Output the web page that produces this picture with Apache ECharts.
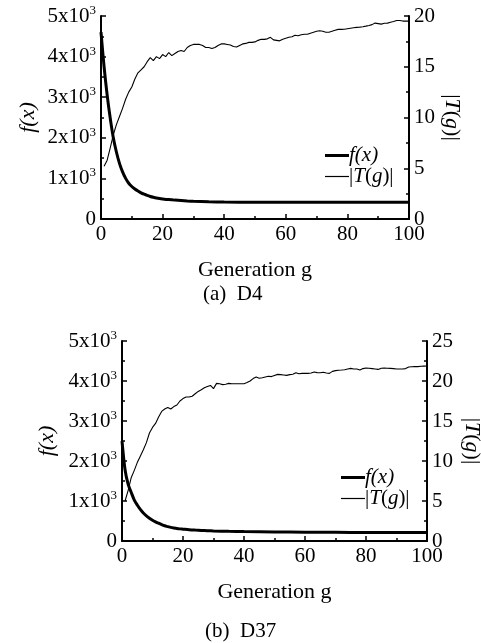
<!DOCTYPE html>
<html><head><meta charset="utf-8">
<script src="https://cdn.jsdelivr.net/npm/echarts@6/dist/echarts.min.js"></script>
<style>html,body{margin:0;padding:0;background:#fff}#c{width:481px;height:643px}</style>
</head><body><div id="c"></div>
<script>
// ---- Data: chart (a) D4 ----
const fGenA = [0,1,2,3,4,5,6,7,8,9,10,11,12,13,14,15,16,17,18,19,20,22,24,26,28,30,35,40,50,60,70,80,90,100];
const fValA = [4600,3750,3050,2480,2000,1650,1370,1160,1000,880,800,740,690,645,610,580,555,535,518,505,495,478,465,455,445,437,425,418,414,412,411,410,410,410];
const tValA = [5.2,5.8,7.0,8.3,9.3,10.1,10.9,11.8,12.5,13.0,13.8,14.4,14.7,15.0,15.5,15.9,15.6,16.0,15.8,16.2,
  16.0,16.4,16.1,16.3,16.5,16.6,16.5,16.9,17.1,17.2,17.2,17.2,17.1,16.9,16.9,16.8,16.9,17.1,17.25,17.25,
  17.2,17.15,17.0,16.95,17.1,17.25,17.3,17.4,17.4,17.45,17.6,17.7,17.7,17.75,17.9,17.65,17.6,17.55,17.7,17.8,
  17.9,17.95,18.1,18.05,18.15,18.2,18.2,18.3,18.4,18.5,18.55,18.5,18.4,18.4,18.5,18.6,18.68,18.68,18.7,18.75,
  18.8,18.85,18.88,18.9,18.94,19.0,19.07,19.15,19.3,19.25,19.2,19.28,19.3,19.38,19.45,19.55,19.55,19.5,19.5,19.5];
// ---- Data: chart (b) D37 ----
const fGenB = [0,1,2,3,4,5,6,7,8,9,10,11,12,13,14,15,16,17,18,19,20,22,24,26,28,30,35,40,50,60,70,80,90,100];
const fValB = [2500,1780,1420,1220,1030,900,790,700,630,570,520,480,445,410,380,360,340,325,312,303,296,282,272,264,257,252,242,235,226,220,216,213,211,210];
const tValB = [5.0,6.3,7.9,8.8,9.8,10.6,11.4,12.3,13.5,14.2,14.7,15.5,16.2,16.5,16.7,16.5,16.8,17.0,17.5,17.8,
  18.0,18.0,18.1,18.4,18.7,18.9,19.15,19.3,19.45,19.05,19.7,19.65,19.55,19.6,19.7,19.65,19.65,19.65,19.65,19.66,
  19.8,20.0,20.3,20.5,20.35,20.4,20.5,20.6,20.55,20.7,20.83,20.8,20.75,20.7,20.8,20.85,21.04,20.9,20.95,20.95,
  20.95,21.0,21.12,21.05,21.04,21.1,21.0,20.95,21.2,21.3,21.35,21.37,21.4,21.5,21.58,21.5,21.5,21.37,21.55,21.62,
  21.6,21.55,21.5,21.45,21.6,21.62,21.6,21.58,21.55,21.5,21.5,21.5,21.55,21.75,21.78,21.8,21.8,21.84,21.86,21.87];
const tGenStart = 1;
const leftMax = 5000, rightMaxA = 20, rightMaxB = 25;

const serif = '"Liberation Serif","DejaVu Serif",serif';
const pairs = (xs, ys) => ys.map((v,i) => [xs[i], v]);
const tPairs = ys => ys.map((v,i) => [tGenStart + i, v]);
const TICK = 21;

function xAxis(gi){
  return {type:'value', gridIndex:gi, min:0, max:100, interval:20,
    name:'Generation g', nameLocation:'middle', nameGap:40, nameMoveOverlap:false,
    nameTextStyle:{fontFamily:serif, fontSize:22, color:'#000'},
    axisLine:{lineStyle:{color:'#000', width:2}},
    axisTick:{inside:true, length:5, lineStyle:{color:'#000', width:1.5}},
    minorTick:{show:true, splitNumber:2, length:3, lineStyle:{color:'#000', width:1.5}},
    axisLabel:{fontFamily:serif, fontSize:TICK, color:'#000', margin:5},
    splitLine:{show:false}};
}
function leftAxis(gi, gap){
  return {type:'value', gridIndex:gi, min:0, max:leftMax, interval:1000, position:'left',
    name:'{i|f}{i|(x)}', nameLocation:'middle', nameGap:gap, nameMoveOverlap:false,
    nameTextStyle:{fontFamily:serif, fontSize:22, color:'#000', rich:{i:{fontFamily:serif, fontSize:22, fontStyle:'italic', color:'#000'}}},
    axisLine:{show:true, lineStyle:{color:'#000', width:2}},
    axisTick:{inside:true, length:5, lineStyle:{color:'#000', width:1.5}},
    minorTick:{show:true, splitNumber:2, length:3, lineStyle:{color:'#000', width:1.5}},
    axisLabel:{margin:5, formatter: v => v === 0 ? '{n|0}' : '{n|' + (v/1000) + 'x10}{s|3}',
      rich:{n:{fontFamily:serif, fontSize:TICK, color:'#000', lineHeight:24},
            s:{fontFamily:serif, fontSize:13, color:'#000', verticalAlign:'top', lineHeight:24}}},
    splitLine:{show:false}};
}
function rightAxis(gi, max, gap){
  return {type:'value', gridIndex:gi, min:0, max:max, interval:5, position:'right',
    name:'|{i|T}({i|g})|', nameLocation:'middle', nameGap:gap, nameRotate:-90, nameMoveOverlap:false,
    nameTextStyle:{fontFamily:serif, fontSize:22, color:'#000', rich:{i:{fontFamily:serif, fontSize:22, fontStyle:'italic', color:'#000'}}},
    axisLine:{show:true, lineStyle:{color:'#000', width:2}},
    axisTick:{inside:true, length:5, lineStyle:{color:'#000', width:1.5}},
    minorTick:{show:true, splitNumber:2, length:3, lineStyle:{color:'#000', width:1.5}},
    axisLabel:{fontFamily:serif, fontSize:TICK, color:'#000', margin:5},
    splitLine:{show:false}};
}
function legend(left, top){
  return {orient:'vertical', left:left, top:top, itemWidth:24, itemHeight:14, itemGap:0,
    data:[{name:'f(x)', icon:'path://M0,0h24v3h-24z'}, {name:'|T(g)|', icon:'path://M0,0h24v1.2h-24z'}],
    formatter: n => n === 'f(x)' ? '{i|f}{i|(x)}' : '|{i|T}({i|g})|',
    textStyle:{fontFamily:serif, fontSize:21, color:'#000', padding:[0,0,0,-5],
      rich:{i:{fontFamily:serif, fontSize:21, fontStyle:'italic', color:'#000'}}}};
}
const fLine = {type:'line', showSymbol:false, symbol:'none', smooth:0.3, lineStyle:{color:'#000', width:3}, itemStyle:{color:'#000'}};
const tLine = {type:'line', showSymbol:false, symbol:'none', lineStyle:{color:'#000', width:1.1}, itemStyle:{color:'#000'}};

const chart = echarts.init(document.getElementById('c'), null, {renderer:'canvas'});
chart.setOption({
  animation:false,
  backgroundColor:'#fff',
  title:[
    {text:'(a)  D4', left:198, top:279, textStyle:{fontFamily:serif, fontSize:21, fontWeight:'normal', color:'#000'}},
    {text:'(b)  D37', left:200, top:616, textStyle:{fontFamily:serif, fontSize:21, fontWeight:'normal', color:'#000'}}
  ],
  grid:[
    {left:101, top:16, width:308, height:203, containLabel:false, outerBoundsMode:'none'},
    {left:122, top:341, width:305, height:200, containLabel:false, outerBoundsMode:'none'}
  ],
  legend:[legend(320, 140), legend(336, 462)],
  xAxis:[xAxis(0), xAxis(1)],
  yAxis:[leftAxis(0, 62), rightAxis(0, rightMaxA, 32), leftAxis(1, 64), rightAxis(1, rightMaxB, 34)],
  series:[
    Object.assign({name:'f(x)', xAxisIndex:0, yAxisIndex:0, data:pairs(fGenA, fValA)}, fLine),
    Object.assign({name:'|T(g)|', xAxisIndex:0, yAxisIndex:1, data:tPairs(tValA)}, tLine),
    Object.assign({name:'f(x)', xAxisIndex:1, yAxisIndex:2, data:pairs(fGenB, fValB)}, fLine),
    Object.assign({name:'|T(g)|', xAxisIndex:1, yAxisIndex:3, data:tPairs(tValB)}, tLine)
  ]
});
</script></body></html>
